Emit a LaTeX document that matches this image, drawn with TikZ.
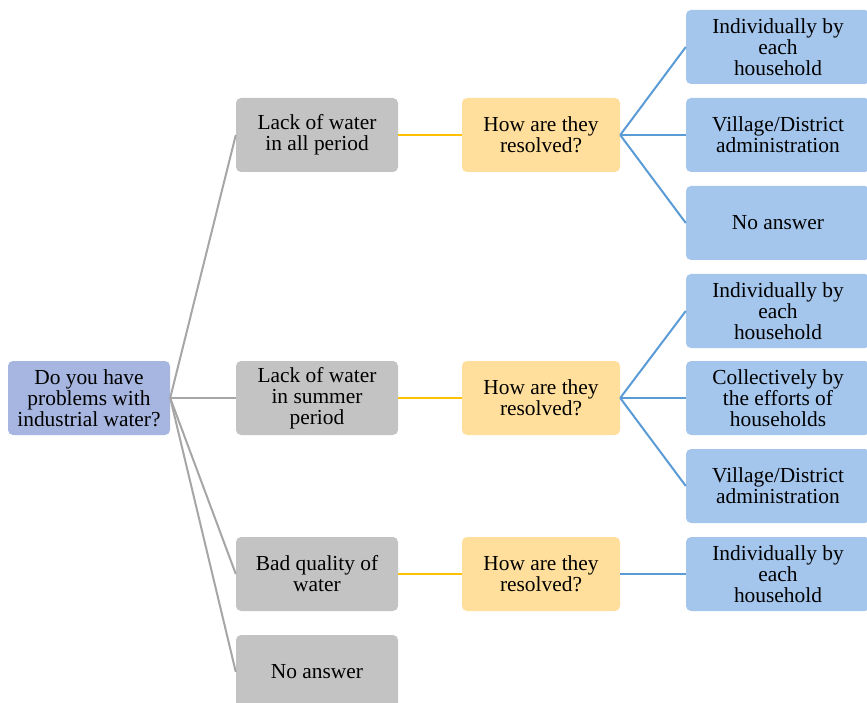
\documentclass[tikz,border=0pt]{standalone}
\usepackage{fontspec}
\setmainfont{Liberation Serif}
\usepackage{tikz}
\usepackage{xcolor}
\definecolor{rootfill}{HTML}{A6B6E0}
\definecolor{issuefill}{HTML}{C3C3C3}
\definecolor{askfill}{HTML}{FFDF9B}
\definecolor{answerfill}{HTML}{A4C5EC}
\definecolor{greyline}{HTML}{A6A6A6}
\definecolor{goldline}{HTML}{FFC000}
\definecolor{blueline}{HTML}{5B9BD5}

\begin{document}
\begin{tikzpicture}[x=1pt,y=-1pt]%
  \tikzstyle{box}=[rectangle,rounded corners=5,inner sep=0,align=center,minimum height=74,font=\rmfamily\fontsize{21.4}{21}\selectfont]
  \tikzstyle{rootbox}=[box,fill=rootfill,minimum width=162]
  \tikzstyle{issue}=[box,fill=issuefill,minimum width=162]
  \tikzstyle{ask}=[box,fill=askfill,minimum width=158]
  \tikzstyle{answer}=[box,fill=answerfill,minimum width=184]
  \tikzstyle{greyedge}=[draw=greyline,line width=2]
  \tikzstyle{goldedge}=[draw=goldline,line width=2]
  \tikzstyle{blueedge}=[draw=blueline,line width=2]
  \useasboundingbox (0,0) rectangle (867,703);
  \node(q)[rootbox] at (89,398) {Do you have\\problems with\\industrial water?};
  % first level
  \node(all)[issue] at (317,135) {Lack of water\\in all period};
  \node(summer)[issue] at (317,398) {Lack of water\\in summer\\period};
  \node(bad)[issue] at (317,574) {Bad quality of\\water};
  \node(none)[issue] at (317,672) {No answer};
  % how are they resolved
  \node(allq)[ask] at (541,135) {How are they\\resolved?};
  \node(summerq)[ask] at (541,398) {How are they\\resolved?};
  \node(badq)[ask] at (541,574) {How are they\\resolved?};
  % answers
  \node(a1)[answer] at (778,47) {Individually by\\each\\household};
  \node(a2)[answer] at (778,135) {Village/District\\administration};
  \node(a3)[answer] at (778,223) {No answer};
  \node(s1)[answer] at (778,311) {Individually by\\each\\household};
  \node(s2)[answer] at (778,398) {Collectively by\\the efforts of\\households};
  \node(s3)[answer] at (778,486) {Village/District\\administration};
  \node(b1)[answer] at (778,574) {Individually by\\each\\household};
  \foreach \t in {all,summer,bad,none}
    \draw[greyedge] (q.east) -- (\t.west);
  \foreach \t in {all,summer,bad}
    \draw[goldedge] (\t.east) -- (\t q.west);
  \foreach \t in {a1,a2,a3}
    \draw[blueedge] (allq.east) -- (\t.west);
  \foreach \t in {s1,s2,s3}
    \draw[blueedge] (summerq.east) -- (\t.west);
  \draw[blueedge] (badq.east) -- (b1.west);
\end{tikzpicture}
\end{document}
